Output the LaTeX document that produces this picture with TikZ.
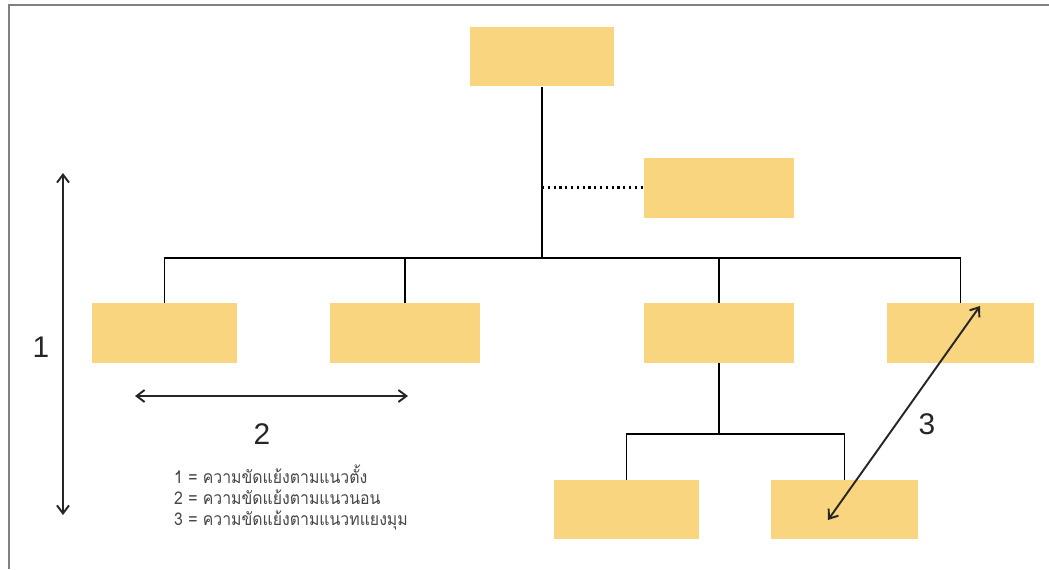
\documentclass[tikz,border=0pt]{standalone}
\usepackage{fontspec}
\setmainfont{Liberation Sans}
\newfontfamily\thaifont[Script=Thai, FakeStretch=0.9]{Loma}
\usetikzlibrary{arrows.meta}
\definecolor{boxfill}{RGB}{250,213,128}
\definecolor{legendgray}{RGB}{70,70,70}

\begin{document}
\begin{tikzpicture}[x=0.02cm, y=-0.02cm, >={Straight Barb[length=1.6mm, width=2.4mm]},
  unit/.style={rectangle, fill=boxfill, inner sep=0pt, minimum width=2.9cm, minimum height=1.2cm},
  tree/.style={line width=1.1pt},
  span/.style={<->, line width=1.1pt, black!85},
  spanlabel/.style={font=\fontsize{17}{17}\selectfont, black!85},
  legend/.style={anchor=west, font=\thaifont\fontsize{10}{11}\selectfont, text=legendgray}]
  \useasboundingbox (0,0) rectangle (1049,569);
  % frame
  \draw[gray, line width=0.9pt] (9,569) -- (9,5) -- (1049,5);
  % boxes
  \node[unit] (top) at (542,56.5) {};
  \node[unit, minimum width=3cm] (staff) at (719,187.5) {};
  \node[unit] (a1) at (164.5,333) {};
  \node[unit, minimum width=3cm] (a2) at (405,333) {};
  \node[unit, minimum width=3cm] (a3) at (719,333) {};
  \node[unit, minimum width=2.94cm] (a4) at (960.5,333) {};
  \node[unit, minimum height=1.18cm] (b1) at (626.5,509.5) {};
  \node[unit, minimum width=2.94cm, minimum height=1.18cm] (b2) at (844.5,509.5) {};
  % tree lines
  \coordinate (bus) at (542,258);
  \draw[tree] (top.south) -- (bus);
  \draw[tree] (a1.north) -- (a1.north |- bus) -- (a4.north |- bus) -- (a4.north);
  \draw[tree] (a2.north) -- (a2.north |- bus);
  \draw[tree] (a3.north) -- (a3.north |- bus);
  \draw[line width=1.3pt, dotted] (top.south |- staff.west) -- (staff.west);
  \coordinate (sub) at (719,434);
  \draw[tree] (a3.south) -- (sub);
  \draw[tree] (b1.north) -- (b1.north |- sub) -- (b2.north |- sub) -- (b2.north);
  % conflicts
  \coordinate (v1) at (63,173);
  \coordinate (v2) at (63,515);
  \draw[span] (v1) -- (v2);
  \node[spanlabel] (n1) at (41,347) {1};
  \coordinate (h1) at (135,396);
  \coordinate (h2) at (408,396);
  \draw[span] (h1) -- (h2);
  \node[spanlabel] (n2) at (262,434) {2};
  \coordinate (d1) at (828,520);
  \coordinate (d2) at (980,306);
  \draw[span] (d1) -- (d2);
  \node[spanlabel] (n3) at (927,424) {3};
  % legend
  \node[legend] (l1) at (168,474) {1 = ความขัดแย้งตามแนวตั้ง};
  \node[legend] (l2) at (168,497) {2 = ความขัดแย้งตามแนวนอน};
  \node[legend] (l3) at (168,520) {3 = ความขัดแย้งตามแนวทแยงมุม};
\end{tikzpicture}
\end{document}
